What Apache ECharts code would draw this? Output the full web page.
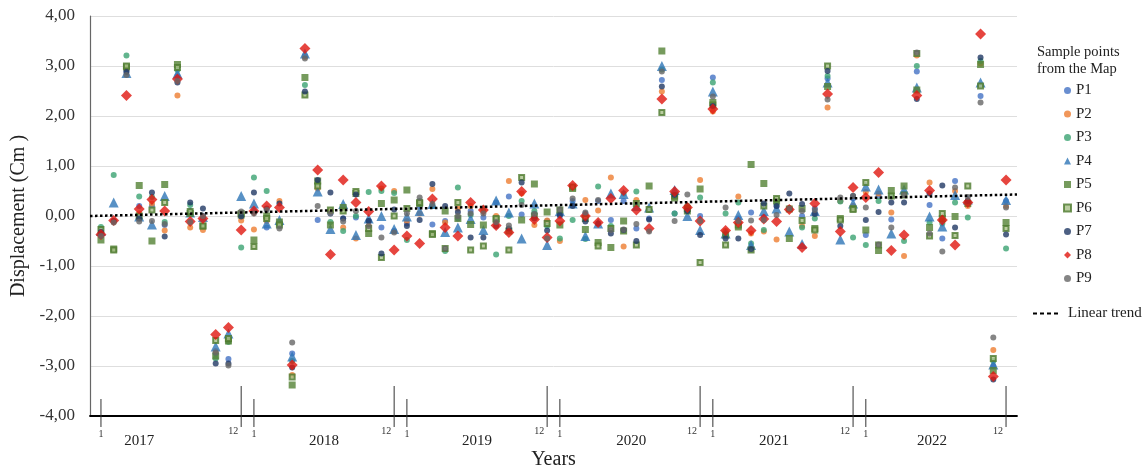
<!DOCTYPE html>
<html>
<head>
<meta charset="utf-8">
<script src="https://cdn.jsdelivr.net/npm/echarts@6/dist/echarts.min.js"></script>
<style>
  html, body { margin: 0; padding: 0; background: #fff; }
  #chart { width: 1143px; height: 468px; }
</style>
</head>
<body>
<div id="chart"></div>
<script>
// month index 0..71 = Jan 2017 .. Dec 2022
var months = [];
for (var i = 0; i < 72; i++) months.push(i);

var P1 = [-0.33,-0.1,2.9,0.2,0.2,-0.18,2.8,0.1,0.0,-2.75,-2.86,0.05, 0.1,-0.23,-0.18,-2.75,3.2,-0.08,0.05,-0.05,-0.03,-0.1,-0.23,-0.3, -0.15,0.2,-0.17,-0.1,-0.05,0.1,-0.03,0.27,0.39,0.03,0.05,-0.1, 0.0,0.3,0.05,0.3,-0.08,0.3,-0.25,-0.05,2.72,0.05,0.12,0.0, 2.77,-0.38,-0.05,0.07,-0.02,0.2,0.15,0.0,0.15,2.75,0.3,0.35, -0.38,0.4,-0.07,0.45,2.89,0.22,-0.45,0.7,0.25,2.4,-3.0,0.3];
var P2 = [-0.38,-0.12,2.95,0.05,0.25,-0.29,2.41,-0.23,-0.28,-2.7,-2.5,-0.09, -0.27,-0.1,0.3,-3.18,3.18,0.55,0.1,-0.23,-0.45,-0.2,0.55,0.5, -0.1,0.05,0.54,-0.13,0.15,0.2,0.1,0.0,0.7,0.45,-0.18,-0.09, -0.5,0.58,0.32,0.11,0.77,-0.61,0.32,0.15,2.49,0.4,0.2,0.72, 2.09,-0.3,0.39,-0.35,-0.31,-0.47,0.16,-0.2,-0.4,2.17,0.3,0.2, 0.48,0.45,0.07,-0.8,3.21,0.67,-0.1,0.5,0.2,3.05,-2.68,0.2];
var P3 = [-0.22,0.82,3.21,0.39,0.38,-0.12,2.92,0.22,-0.03,-2.85,-2.52,-0.63, 0.77,0.5,-0.2,-2.9,2.62,0.65,-0.12,-0.3,0.0,0.48,0.5,0.46, -0.48,0.3,0.2,-0.7,0.57,0.02,0.15,-0.77,0.0,0.3,0.1,-0.2, -0.45,-0.08,-0.46,0.59,-0.2,0.45,0.49,0.12,2.93,0.05,0.2,0.37, 2.67,0.05,0.27,-0.55,-0.28,0.25,0.15,-0.23,-0.05,2.8,0.29,-0.43, -0.58,0.3,0.4,-0.5,3.0,-0.13,-0.15,0.27,-0.03,3.1,-2.9,-0.65];
var P4 = [-0.3,0.27,2.86,-0.01,-0.17,0.4,2.85,0.07,-0.02,-2.61,-2.35,0.4, 0.25,-0.15,-0.08,-2.81,3.25,0.49,-0.26,0.24,-0.38,-0.05,0.0,-0.26, -0.01,0.1,0.24,-0.32,-0.23,-0.06,-0.28,0.31,0.07,-0.45,0.25,-0.58, 0.1,0.25,-0.4,-0.15,0.45,0.44,0.2,0.17,3.0,0.52,0.0,-0.28, 2.49,-0.35,0.02,-0.58,0.1,0.15,-0.31,-0.56,0.1,2.67,-0.47,0.25, 0.59,0.53,-0.35,0.53,2.57,-0.01,-0.21,0.42,0.33,2.67,-2.97,0.32];
var P5 = [-0.48,-0.66,2.98,0.61,-0.5,0.63,3.03,0.05,-0.2,-2.8,-2.5,0.02, -0.48,0.0,-0.12,-3.38,2.77,0.7,-0.18,0.17,0.45,-0.35,0.25,0.32, 0.52,0.25,-0.35,0.1,-0.05,-0.17,-0.18,-0.07,-0.3,-0.08,0.64,0.08, -0.18,0.55,-0.27,-0.53,-0.63,-0.1,0.25,0.6,3.3,0.36,0.15,0.54, 2.27,-0.38,-0.22,1.03,0.65,0.3,-0.45,0.15,-0.25,2.59,-0.05,0.15, -0.28,-0.69,0.51,0.6,2.52,-0.23,-0.05,-0.01,0.25,3.03,-3.09,-0.13];
var P6 = [-0.27,-0.68,3.0,0.0,0.12,0.27,2.97,0.09,-0.2,-2.49,-2.45,0.05, -0.61,-0.05,-0.18,-3.22,2.42,0.6,0.12,0.1,0.49,-0.25,-0.83,0.0, 0.15,0.27,-0.37,-0.65,0.27,-0.68,-0.6,-0.05,-0.68,0.77,0.0,-0.15, 0.12,0.58,-0.05,-0.6,-0.25,-0.3,-0.58,0.13,2.07,0.4,0.1,-0.93, 2.22,-0.58,-0.18,-0.68,0.2,0.35,0.14,-0.09,-0.28,3.0,-0.08,0.13, 0.67,-0.58,0.4,0.42,3.25,-0.4,0.05,-0.39,0.6,2.6,-2.85,-0.25];
var P7 = [-0.32,-0.1,2.88,-0.05,0.47,-0.41,2.67,0.27,0.15,-2.95,-2.95,-0.01, 0.47,0.15,0.25,-3.03,2.49,0.72,0.47,-0.05,0.43,-0.1,-0.75,0.13, -0.2,-0.08,0.64,0.2,0.08,-0.43,-0.43,-0.2,-0.25,0.67,-0.05,-0.29, 0.02,0.2,-0.11,-0.15,-0.35,-0.28,-0.5,-0.07,2.59,0.42,0.1,-0.38, 2.2,-0.45,-0.45,-0.66,0.25,0.2,0.45,0.24,0.04,2.9,-0.2,0.4, -0.08,0.08,0.27,0.27,2.34,0.45,0.61,-0.23,0.3,3.17,-3.27,-0.37];
var P8 = [-0.37,-0.09,2.41,0.14,0.33,0.1,2.74,-0.11,-0.05,-2.37,-2.23,-0.28, 0.1,0.2,0.17,-2.98,3.35,0.92,-0.77,0.72,0.27,0.09,0.6,-0.68, -0.4,-0.55,0.34,-0.23,-0.4,0.27,0.12,-0.19,-0.33,0.49,-0.07,-0.43, -0.1,0.61,0.0,-0.13,0.35,0.51,0.12,-0.25,2.34,0.49,0.17,-0.1, 2.14,-0.29,-0.13,-0.29,-0.06,-0.11,0.13,-0.63,0.25,2.44,-0.31,0.57, 0.37,0.87,-0.69,-0.38,2.41,0.51,-0.08,-0.58,0.27,3.64,-3.21,0.72];
var P9 = [-0.4,-0.13,2.82,-0.11,-0.1,-0.16,2.7,-0.12,0.0,-2.73,-2.99,0.09, 0.05,0.12,-0.25,-2.53,3.15,0.2,0.05,-0.11,0.1,-0.2,-0.43,-0.33, 0.05,0.37,0.24,-0.65,0.0,0.05,0.05,-0.12,-0.19,0.22,0.04,-0.45, 0.13,0.35,0.07,0.32,-0.28,-0.27,-0.16,-0.31,2.89,-0.1,0.43,-0.1, 2.39,0.17,-0.1,-0.09,-0.08,0.02,0.15,0.1,0.12,2.33,0.37,0.4, 0.17,-0.57,-0.23,0.42,3.27,-0.35,-0.71,0.57,0.38,2.27,-2.43,0.17];

// linear trend, read at both ends of the plot
var trendX = [-0.86, 71.86];
var trendY = [0.0, 0.43];

// month marks under the axis
var markMonths = [0, 11, 12, 23, 24, 35, 36, 47, 48, 59, 60, 71];
var markLabels = ['1', '12', '1', '12', '1', '12', '1', '12', '1', '12', '1', '12'];
var yearNames = ['2017', '2018', '2019', '2020', '2021', '2022'];
var yearPos = [3.0, 17.5, 29.5, 41.6, 52.8, 65.2];

var names = ['P1', 'P2', 'P3', 'P4', 'P5', 'P6', 'P7', 'P8', 'P9'];
var values = [P1, P2, P3, P4, P5, P6, P7, P8, P9];

var FONT = 'Liberation Serif';

// marker look of each sample point
var looks = [
  { symbol: 'circle', size: 6, color: '#4472C4' },
  { symbol: 'circle', size: 6, color: '#ED7D31' },
  { symbol: 'circle', size: 6, color: '#3BA272' },
  { symbol: 'triangle', size: 10, color: '#2E75B6' },
  { symbol: 'rect', size: 7, color: '#548235' },
  { symbol: 'rect', size: 5, color: '#A9C18A', border: '#4E7A2E' },
  { symbol: 'circle', size: 6, color: '#203864' },
  { symbol: 'diamond', size: 11, color: '#E0160F' },
  { symbol: 'circle', size: 6, color: '#666666' }
];

var series = [];
names.forEach(function (n, k) {
  var pts = [];
  for (var i = 0; i < months.length; i++) pts.push([months[i], values[k][i]]);
  var lk = looks[k];
  series.push({
    name: n,
    type: 'scatter',
    data: pts,
    symbol: lk.symbol,
    symbolSize: lk.size,
    itemStyle: lk.border ? { color: lk.color, borderColor: lk.border, borderWidth: 2 } : { color: lk.color },
    z: 3
  });
});

series.push({
  name: 'Linear trend',
  type: 'line',
  data: [[trendX[0], trendY[0]], [trendX[1], trendY[1]]],
  symbol: 'none',
  itemStyle: { color: '#000' },
  lineStyle: { color: '#000', width: 2.5, type: [2.5, 2.5] },
  z: 4
});

// 1 / 12 marks below the axis
series.push({
  type: 'custom',
  silent: true,
  clip: false,
  data: markMonths.map(function (m, i) { return [m, i]; }),
  renderItem: function (params, api) {
    var p = api.coord([api.value(0), -4]);
    var idx = params.dataIndex;
    var isDec = markLabels[idx] === '12';
    return {
      type: 'group',
      children: [
        {
          type: 'line',
          shape: { x1: p[0], y1: p[1] - (isDec ? 30 : 17), x2: p[0], y2: p[1] + 11 },
          style: { stroke: '#333', lineWidth: 1 }
        },
        {
          type: 'text',
          style: {
            text: markLabels[idx],
            x: isDec ? p[0] - 3 : p[0],
            y: p[1] + (isDec ? 15 : 18),
            align: isDec ? 'right' : 'center',
            verticalAlign: 'middle',
            font: '10px "' + FONT + '"',
            fill: '#333'
          }
        }
      ]
    };
  },
  z: 5
});

// year labels
series.push({
  type: 'custom',
  silent: true,
  clip: false,
  data: yearPos.map(function (x, i) { return [x, i]; }),
  renderItem: function (params, api) {
    var p = api.coord([api.value(0), -4]);
    return {
      type: 'text',
      style: {
        text: yearNames[params.dataIndex],
        x: p[0],
        y: p[1] + 25,
        align: 'center',
        verticalAlign: 'middle',
        font: '15px "' + FONT + '"',
        fill: '#222'
      }
    };
  },
  z: 5
});

var chart = echarts.init(document.getElementById('chart'));
chart.setOption({
  backgroundColor: '#fff',
  animation: false,
  textStyle: { fontFamily: FONT },
  grid: { left: 90, right: 126, top: 16, bottom: 52, outerBoundsMode: 'none', containLabel: false },
  xAxis: {
    type: 'value',
    min: -0.86,
    max: 71.86,
    name: 'Years',
    nameLocation: 'middle',
    nameGap: 34,
    nameTextStyle: { fontSize: 20, color: '#222', fontFamily: FONT },
    axisLine: { show: true, onZero: false, lineStyle: { color: '#000', width: 1.8 } },
    axisTick: { show: false },
    axisLabel: { show: false },
    splitLine: { show: false }
  },
  yAxis: {
    type: 'value',
    min: -4,
    max: 4,
    interval: 1,
    name: 'Displacement (Cm )',
    nameLocation: 'middle',
    nameGap: 54,
    nameTextStyle: { fontSize: 20, color: '#222', fontFamily: FONT },
    axisLine: { show: true, onZero: false, lineStyle: { color: '#666', width: 1.2 } },
    axisTick: { show: false },
    axisLabel: {
      margin: 15,
      fontSize: 17,
      color: '#333',
      fontFamily: FONT,
      formatter: function (v) { return v.toFixed(2).replace('.', ','); }
    },
    splitLine: { lineStyle: { color: '#dedede', width: 1 } }
  },
  legend: [
    {
      data: names,
      orient: 'vertical',
      left: 1063,
      top: 83,
      padding: 0,
      itemWidth: 7,
      itemHeight: 7,
      itemGap: 8.5,
      textStyle: { fontSize: 15, color: '#222', fontFamily: FONT }
    },
    {
      data: [{
        name: 'Linear trend',
        icon: 'path://M0,0h4v2h-4z M7,0h4v2h-4z M14,0h4v2h-4z M21,0h4v2h-4z',
        itemStyle: { color: '#000' }
      }],
      left: 1033,
      top: 306,
      padding: 0,
      itemWidth: 25,
      itemHeight: 2,
      itemGap: 10,
      textStyle: { fontSize: 15, color: '#222', fontFamily: FONT, padding: [0, 0, 0, 5] }
    }
  ],
  graphic: [
    {
      type: 'text',
      left: 1037,
      top: 44,
      style: {
        text: 'Sample points\nfrom the Map',
        font: '14.5px "' + FONT + '"',
        lineHeight: 17,
        fill: '#222'
      }
    }
  ],
  series: series
});
</script>
</body>
</html>
